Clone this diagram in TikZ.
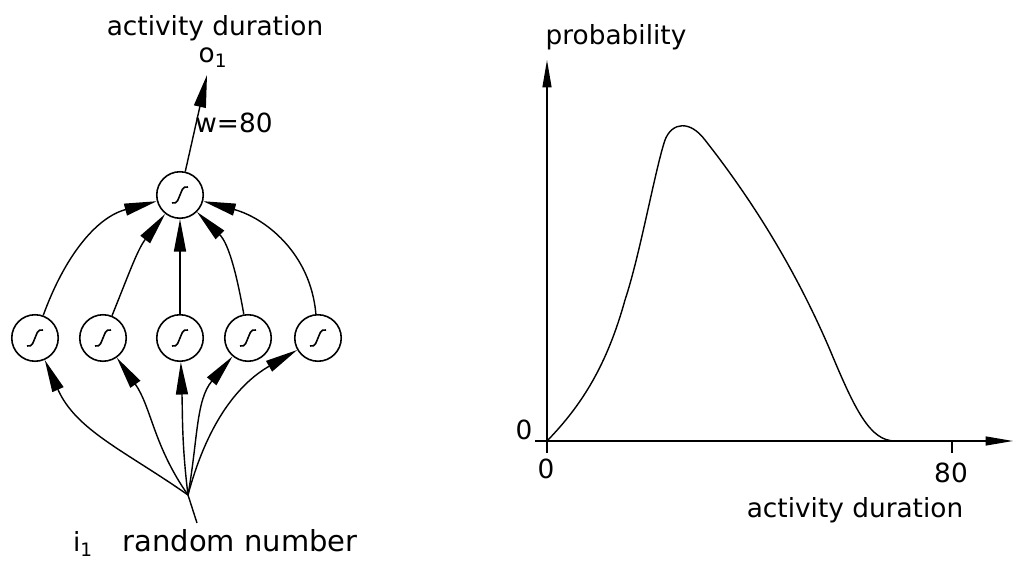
\documentclass[tikz,border=0pt]{standalone}
\usepackage{fontspec}
\setmainfont{DejaVu Sans}
\usepackage{tikz}
\usetikzlibrary{arrows.meta, calc}
\tikzset{
  neuron/.style={circle, draw, line width=0.9pt, minimum size=0.93cm, inner sep=0pt},
  lbl/.style={font=\fontsize{15}{18}\selectfont, inner sep=0pt, anchor=base}
}

\begin{document}
\begin{tikzpicture}[x=0.02cm, y=-0.02cm, line width=0.8pt]
\useasboundingbox (0,0) rectangle (1015,563);
% network
\begin{scope}[every node/.style={neuron}]
    \node (out) at (180,195) {};
    \node (h1) at (35,338) {};
    \node (h2) at (103,338) {};
    \node (h3) at (180,338) {};
    \node (h4) at (248,338) {};
    \node (h5) at (318,338) {};
\end{scope}
\foreach \n in {out,h1,h2,h3,h4,h5}
    \draw[line width=0.9pt] ($(\n)+(-8,8)$) .. controls ($(\n)+(-2,9)$) and ($(\n)+(-2,4)$) .. (\n.center)
        .. controls ($(\n)+(2,-4)$) and ($(\n)+(2,-9)$) .. ($(\n)+(8,-8)$);
    \coordinate (top) at (207,75);
    \coordinate (j) at (188,495);
    \coordinate (src) at (197,523);
\node[lbl] (title) at (215,36) {activity duration};
\node[lbl] (o1) at (213,63) {o\textsubscript{1}};
\node[lbl] (w) at (234,133) {w=80};
\node[lbl] (i1) at (83,552) {i\textsubscript{1}};
\node[lbl, font=\fontsize{16.5}{18}\selectfont] (rnd) at (240,552) {random number};
\begin{scope}[>={Triangle[length=6.5mm,width=2.4mm]},
              every edge/.style={draw=black, line width=0.8pt}]
    \path [->] (out) edge (top);
    \path [->] (h1) edge[out=70,in=195] (out);
    \path [->] (h2) edge[out=68,in=232] (out);
    \path [->] (h3) edge (out);
    \path [->] (h4) edge[out=100,in=-45] (out);
    \path [->] (h5) edge[out=95,in=-15] (out);
    \path [-] (src) edge (j);
    \path [->] (j) edge[out=145,in=-66] (h1);
    \path [->] (j) edge[out=125,in=-55] (h2);
    \path [->] (j) edge[out=97,in=-88] (h3);
    \path [->] (j) edge[out=80,in=-130] (h4);
    \path [->] (j) edge[out=75,in=-150] (h5);
\end{scope}
% graph
    \coordinate (ybot) at (547,453);
    \coordinate (ytop) at (547,60);
    \coordinate (xbeg) at (535,441);
    \coordinate (xend) at (1013,441);
\begin{scope}[>={Triangle[length=5.5mm,width=1.8mm]}]
    \draw[->] (ybot) -- (ytop);
    \draw[->] (xbeg) -- (xend);
\end{scope}
\draw (952,441) -- (952,453);
\draw (547,441) .. controls (582,405) and (607,365) .. (625,300)
    .. controls (640,255) and (655,170) .. (665,140)
    .. controls (672,122) and (690,120) .. (705,140)
    .. controls (760,210) and (800,280) .. (830,350)
    .. controls (855,410) and (870,441) .. (895,441);
\node[lbl] (prob) at (616,45) {probability};
\node[lbl] (yzero) at (524,440) {0};
\node[lbl] (xzero) at (546,479) {0};
\node[lbl] (eighty) at (951,483) {80};
\node[lbl] (xlab) at (855,518) {activity duration};
\end{tikzpicture}
\end{document}
